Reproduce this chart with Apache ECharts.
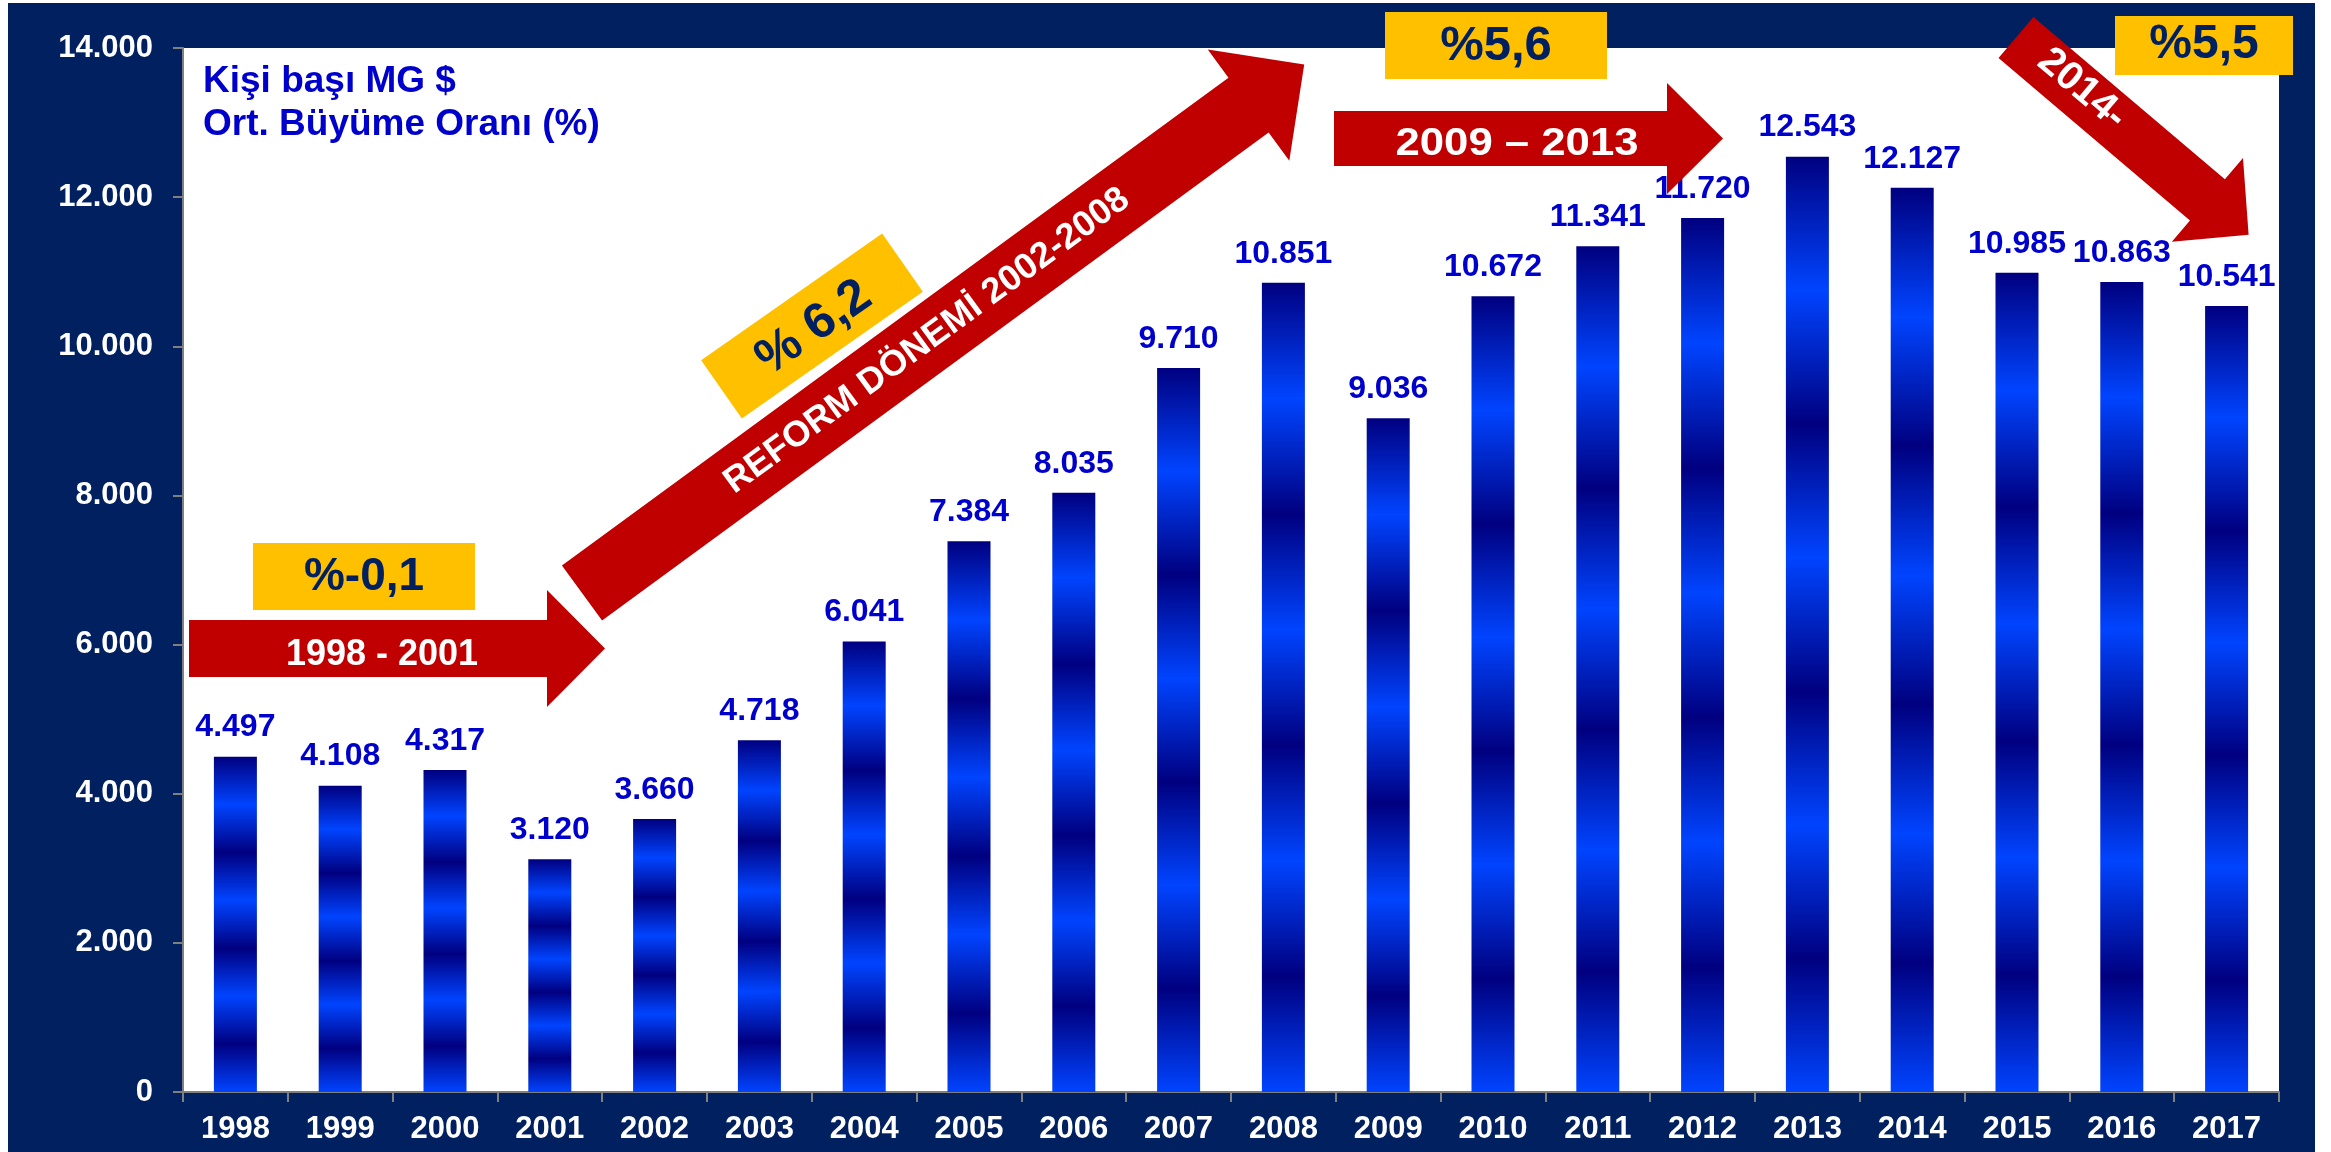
<!DOCTYPE html>
<html>
<head>
<meta charset="utf-8">
<script src="https://cdn.jsdelivr.net/npm/echarts@6/dist/echarts.min.js"></script>
<style>
  html, body { margin: 0; padding: 0; background: #ffffff; }
  #navy { position: absolute; left: 8px; top: 3px; width: 2307px; height: 1149px; background: #002060; }
  #chart { position: absolute; left: 0; top: 0; width: 2331px; height: 1152px; }
</style>
</head>
<body>
<div id="navy"></div>
<div id="chart"></div>
<script>
// ---- data ----
var years = ['1998','1999','2000','2001','2002','2003','2004','2005','2006','2007',
             '2008','2009','2010','2011','2012','2013','2014','2015','2016','2017'];
var gdpPerCapita = [4497, 4108, 4317, 3120, 3660, 4718, 6041, 7384, 8035, 9710,
                    10851, 9036, 10672, 11341, 11720, 12543, 12127, 10985, 10863, 10541];
var yAxisMin = 0, yAxisMax = 14000, yAxisStep = 2000;
var legendLines = ['Kişi başı MG $', 'Ort. Büyüme Oranı (%)'];
var periodLabels = ['1998 - 2001', 'REFORM DÖNEMİ 2002-2008', '2009 – 2013', '2014-'];
var growthRates = ['%-0,1', '% 6,2', '%5,6', '%5,5'];

var FONT = 'Arial, "Liberation Sans", sans-serif';
function fmt(v) { return String(v).replace(/\B(?=(\d{3})+(?!\d))/g, '.'); }

var barGradient = new echarts.graphic.LinearGradient(0, 0, 0, 1, [
  { offset: 0, color: '#000080' },
  { offset: 1/7, color: '#0044ff' },
  { offset: 2/7, color: '#000080' },
  { offset: 3/7, color: '#0044ff' },
  { offset: 4/7, color: '#000080' },
  { offset: 5/7, color: '#0044ff' },
  { offset: 6/7, color: '#000080' },
  { offset: 1, color: '#0044ff' }
]);

// decorative arrow polygon
function arrowShape(cx, cy, deg, len, sh, hh, hl) {
  var a = deg * Math.PI / 180, ux = Math.cos(a), uy = Math.sin(a), nx = -uy, ny = ux;
  var bx = cx + ux * (len - hl), by = cy + uy * (len - hl);
  var tx = cx + ux * len, ty = cy + uy * len;
  return [
    [cx + nx * sh, cy + ny * sh], [bx + nx * sh, by + ny * sh], [bx + nx * hh, by + ny * hh],
    [tx, ty],
    [bx - nx * hh, by - ny * hh], [bx - nx * sh, by - ny * sh], [cx - nx * sh, cy - ny * sh]
  ];
}
function rotBox(cx, cy, deg, w, h) {
  var a = deg * Math.PI / 180, ux = Math.cos(a), uy = -Math.sin(a), nx = -uy, ny = ux;
  var hw = w / 2, hh = h / 2;
  return [
    [cx - ux * hw - nx * hh, cy - uy * hw - ny * hh],
    [cx + ux * hw - nx * hh, cy + uy * hw - ny * hh],
    [cx + ux * hw + nx * hh, cy + uy * hw + ny * hh],
    [cx - ux * hw + nx * hh, cy - uy * hw + ny * hh]
  ];
}
var RED = '#c00000', GOLD = '#ffc000', BOXTXT = '#002060';
function poly(points, fill) { return { type: 'polygon', z: 100, shape: { points: points }, style: { fill: fill } }; }
function txt(x, y, text, size, fill, rotDeg, sx) {
  return { type: 'text', z: 101, x: x, y: y, rotation: (rotDeg || 0) * Math.PI / 180,
    scaleX: sx || 1,
    style: { text: text, fill: fill, fontSize: size, fontWeight: 'bold', fontFamily: FONT,
             align: 'center', verticalAlign: 'middle' } };
}
function rect(x, y, w, h, fill) { return { type: 'rect', z: 100, shape: { x: x, y: y, width: w, height: h }, style: { fill: fill } }; }

var graphics = [
  { type: 'text', z: 101, x: 203, y: 60,
    style: { text: legendLines.join('\n'), fill: '#0000cc', fontSize: 37, fontWeight: 'bold',
             fontFamily: FONT, lineHeight: 43, align: 'left', verticalAlign: 'top' } },
  // 1998-2001
  poly(arrowShape(189, 648.5, 0, 416, 28.5, 58.5, 58), RED),
  txt(382, 655, periodLabels[0], 36, '#ffffff'),
  rect(253, 543, 222, 67, GOLD),
  txt(364, 577, growthRates[0], 46, BOXTXT),
  // reform
  poly(arrowShape(582, 593, -36.2, 895, 34, 69, 69), RED),
  txt(927, 341, periodLabels[1], 36, '#ffffff', 36.2),
  poly(rotBox(812, 326, 35, 221, 71), GOLD),
  txt(814, 328, growthRates[1], 50, BOXTXT, 35),
  // 2009-2013
  poly(arrowShape(1334, 138.5, 0, 389, 27.5, 55.5, 56), RED),
  txt(1517, 145, periodLabels[2], 38, '#ffffff', 0, 1.15),
  rect(1385, 12, 222, 67, GOLD),
  txt(1496, 46, growthRates[2], 49, BOXTXT),
  // 2014-
  poly(arrowShape(2016, 37.5, 40.3, 305, 27, 55, 54), RED),
  txt(2082, 89, periodLabels[3], 40, '#ffffff', -40.3),
  rect(2115, 16, 178, 59, GOLD),
  txt(2204, 45, growthRates[3], 48, BOXTXT)
];

var chart = echarts.init(document.getElementById('chart'), null, { renderer: 'canvas' });
chart.setOption({
  backgroundColor: 'transparent',
  animation: false,
  grid: { left: 183, right: 52, top: 48, bottom: 60, show: true, backgroundColor: '#ffffff', borderWidth: 0 },
  xAxis: {
    type: 'category',
    data: years,
    boundaryGap: true,
    axisLine: { show: true, lineStyle: { color: '#808080', width: 2 } },
    axisTick: { show: true, alignWithLabel: false, length: 10, lineStyle: { color: '#808080', width: 2 } },
    axisLabel: { color: '#ffffff', fontSize: 31, fontWeight: 'bold', fontFamily: FONT, margin: 22, interval: 0 },
    splitLine: { show: false }
  },
  yAxis: {
    type: 'value',
    min: yAxisMin, max: yAxisMax, interval: yAxisStep,
    axisLine: { show: true, lineStyle: { color: '#808080', width: 2 } },
    axisTick: { show: true, length: 10, lineStyle: { color: '#808080', width: 2 } },
    axisLabel: { color: '#ffffff', fontSize: 31, fontWeight: 'bold', fontFamily: FONT, margin: 30,
                 formatter: function (v) { return fmt(v); } },
    splitLine: { show: false }
  },
  series: [{
    type: 'bar',
    data: gdpPerCapita,
    barWidth: 43,
    itemStyle: { color: barGradient },
    label: {
      show: true, position: 'top', distance: 13,
      color: '#0000cc', fontSize: 32, fontWeight: 'bold', fontFamily: FONT,
      formatter: function (p) { return fmt(p.value); }
    }
  }],
  graphic: graphics
});
</script>
</body>
</html>
